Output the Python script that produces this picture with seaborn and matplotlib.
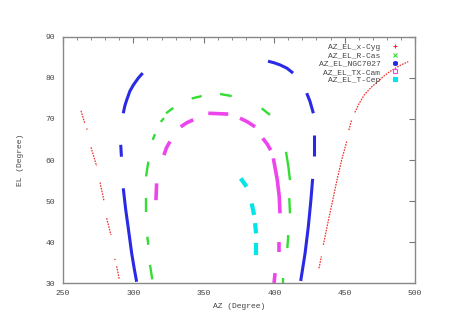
import matplotlib
matplotlib.use("Agg")
import matplotlib.pyplot as plt
from matplotlib.lines import Line2D
from matplotlib.ticker import MultipleLocator
import seaborn as sns
import pandas as pd

# ---- data (AZ, EL in degrees), one list of segments per source ----
XCYG_AZ = [[262.8, 265.6], [266.9, 267.1], [269.9, 273.9], [276.3, 279.1], [281.0, 284.1],
           [286.8, 287.0], [288.1, 290.0], [431.8, 433.5],
           [434.9, 438.0, 441.0, 444.5, 447.9, 451.5], [453.0, 455.0],
           [457.3, 460.0, 464.0, 468.5, 472.8, 478.0, 482.2, 489.0, 495.2]]
XCYG_EL = [[72.0, 68.8], [67.7, 67.4], [63.1, 58.5], [54.5, 50.1], [45.8, 41.7],
           [35.9, 35.6], [34.1, 30.9], [33.6, 36.5],
           [39.3, 44.5, 49.3, 55.0, 60.0, 64.5], [67.3, 69.8],
           [71.6, 73.6, 75.9, 77.6, 78.9, 80.5, 81.6, 83.0, 84.0]]

RCAS_AZ = [[310.6, 309.0], [308.7, 308.7], [309.9, 310.6], [311.8, 313.4], [313.7, 315.3],
           [319.4, 321.7], [323.2, 328.3], [341.4, 348.5], [361.5, 369.8], [391.1, 397.0],
           [408.4, 410.0, 411.2], [410.7, 411.2], [410.0, 409.3], [406.0, 406.0]]
RCAS_EL = [[59.6, 56.0], [50.7, 47.4], [41.3, 39.3], [34.4, 30.9], [64.9, 66.3],
           [69.3, 70.2], [71.4, 72.7], [75.0, 75.6], [76.1, 75.6], [72.6, 71.0],
           [62.0, 58.5, 55.1], [50.7, 47.0], [41.7, 38.5], [31.1, 30.0]]

NGC_AZ = [[292.8, 294.0, 295.2, 297.5, 300.0, 303.5, 306.6], [291.0, 291.5],
          [292.8, 294.5, 296.4, 298.8, 300.6, 302.3],
          [395.6, 400.0, 404.1, 409.0, 413.4], [423.1, 425.4, 427.8], [428.3, 428.3],
          [427.3, 426.0, 424.2, 421.9, 418.8]]
NGC_EL = [[71.4, 73.3, 74.6, 76.8, 78.3, 80.0, 81.2], [63.7, 60.8],
          [53.1, 48.0, 43.3, 37.2, 33.5, 30.3],
          [84.1, 83.7, 83.2, 82.4, 81.2], [76.3, 74.3, 71.4], [66.1, 61.0],
          [55.4, 50.0, 43.7, 37.2, 30.5]]

TXCAM_AZ = [[316.5, 316.0], [321.7, 323.5, 326.0], [333.6, 338.0, 342.5], [353.2, 367.4],
            [375.7, 381.0, 386.4], [391.8, 395.0, 397.5], [399.4, 402.2, 403.6, 404.1],
            [403.4, 403.4], [400.6, 399.9]]
TXCAM_EL = [[54.3, 50.2], [61.2, 63.0, 64.5], [68.1, 69.1, 69.8], [71.4, 71.2],
            [70.2, 69.3, 68.1], [65.3, 63.9, 62.4], [60.4, 55.1, 51.0, 47.0],
            [40.1, 37.6], [32.4, 30.0]]

TCEP_AZ = [[376.2, 380.4], [384.0, 385.7], [386.4, 387.1], [387.1, 387.1]]
TCEP_EL = [[55.5, 53.5], [49.4, 46.6], [44.6, 42.1], [39.7, 36.8]]

LABELS = ["AZ_EL_x-Cyg", "AZ_EL_R-Cas", "AZ_EL_NGC7027", "AZ_EL_TX-Cam", "AZ_EL_T-Cep"]
X_TICKS = [250, 300, 350, 400, 450, 500]
Y_TICKS = [30, 40, 50, 60, 70, 80, 90]


def frame(az_lists, el_lists):
    rows = []
    for i, (a, e) in enumerate(zip(az_lists, el_lists)):
        for x, y in zip(a, e):
            rows.append({"seg": i, "az": x, "el": y})
    return pd.DataFrame(rows)


series = [
    (XCYG_AZ, XCYG_EL, dict(color="#f03030", lw=0.9, ls=(0, (1.3, 0.9)))),
    (RCAS_AZ, RCAS_EL, dict(color="#33dd33", lw=1.7, ls="-")),
    (NGC_AZ, NGC_EL, dict(color="#2a2ae6", lw=2.2, ls="-")),
    (TXCAM_AZ, TXCAM_EL, dict(color="#ee44ee", lw=2.6, ls="-")),
    (TCEP_AZ, TCEP_EL, dict(color="#00e5e5", lw=3.0, ls="-")),
]

sns.set_style("white")
plt.rcParams["font.family"] = ["Liberation Mono", "DejaVu Sans Mono"]

fig = plt.figure(figsize=(4.68, 3.30), dpi=100)
ax = fig.add_axes([0.1346, 0.1424, 0.7522, 0.7455])

for az, el, st in series:
    df = frame(az, el)
    sns.lineplot(data=df, x="az", y="el", units="seg", estimator=None, sort=False,
                 color=st["color"], linewidth=st["lw"], linestyle=st["ls"],
                 legend=False, ax=ax, solid_capstyle="butt")

ax.set_xlim(250, 500)
ax.set_ylim(30, 90)
ax.set_xticks(X_TICKS)
ax.set_yticks(Y_TICKS)
ax.xaxis.set_minor_locator(MultipleLocator(10))
ax.tick_params(which="both", direction="in", top=True, right=True, color="#777777",
               labelsize=5.8, labelcolor="#444444")
ax.tick_params(which="major", length=4, width=0.8)
ax.tick_params(which="minor", length=2, width=0.6)
ax.tick_params(axis="x", pad=5)
ax.tick_params(axis="y", pad=6)
for s in ax.spines.values():
    s.set_color("#888888")
    s.set_linewidth(1.0)
ax.set_xlabel("AZ (Degree)", fontsize=5.8, color="#444444", labelpad=4)
ax.set_ylabel("EL (Degree)", fontsize=5.8, color="#444444", labelpad=15)

mk_styles = [dict(marker="+", ms=3, mew=0.8), dict(marker="x", ms=3, mew=0.8),
             dict(marker=(6, 2, 0), ms=3.5, mew=1.2), dict(marker="s", ms=3.5, mew=0.8, mfc="none"),
             dict(marker="s", ms=3.5, mew=0.8)]
handles = []
for (az, el, st), lab, ms in zip(series, LABELS, mk_styles):
    handles.append(Line2D([], [], linestyle="none", color=st["color"], label=lab, **ms))
leg = ax.legend(handles=handles, loc="upper right", frameon=False, markerfirst=False,
                fontsize=5.8, handlelength=1.2, handletextpad=1.2, labelspacing=0.08,
                borderaxespad=0.4, bbox_to_anchor=(0.975, 1.0))
for t in leg.get_texts():
    t.set_color("#444444")

fig.savefig("out.png", dpi=100)
